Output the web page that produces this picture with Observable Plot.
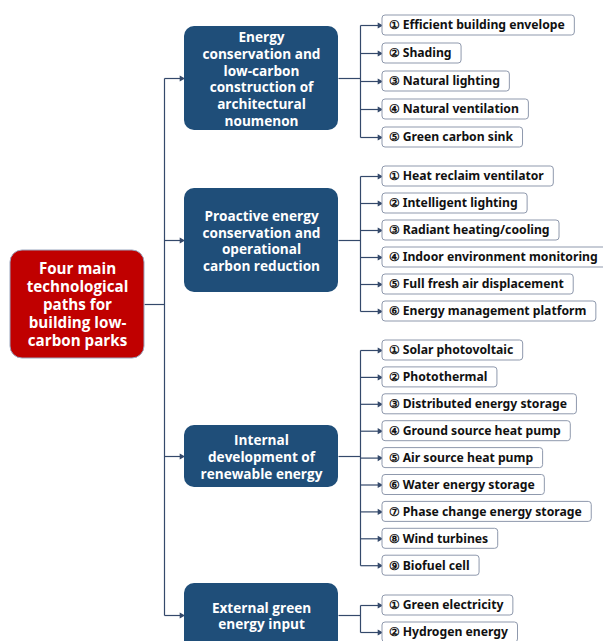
<!DOCTYPE html>
<html><head><meta charset="utf-8">
<script src="https://cdn.jsdelivr.net/npm/d3@7"></script>
<script src="https://cdn.jsdelivr.net/npm/@observablehq/plot@0.6"></script>
<style>body{margin:0;background:#fff}#chart svg{display:block}</style>
</head><body><div id="chart"></div>
<script>
// ---- data ----
const rootLabel = "Four main\ntechnological\npaths for\nbuilding low-\ncarbon parks";
const categories = [
  "Energy\nconservation and\nlow-carbon\nconstruction of\narchitectural\nnoumenon",
  "Proactive energy\nconservation and\noperational\ncarbon reduction",
  "Internal\ndevelopment of\nrenewable energy",
  "External green\nenergy input"
];
const group1 = ["① Efficient building envelope", "② Shading", "③ Natural lighting", "④ Natural ventilation", "⑤ Green carbon sink"];
const group2 = ["① Heat reclaim ventilator", "② Intelligent lighting", "③ Radiant heating/cooling", "④ Indoor environment monitoring", "⑤ Full fresh air displacement", "⑥ Energy management platform"];
const group3 = ["① Solar photovoltaic", "② Photothermal", "③ Distributed energy storage", "④ Ground source heat pump", "⑤ Air source heat pump", "⑥ Water energy storage", "⑦ Phase change energy storage", "⑧ Wind turbines", "⑨ Biofuel cell"];
const group4 = ["① Green electricity", "② Hydrogen energy"];
const groups = [group1, group2, group3, group4];

// ---- layout (pixel space) ----
const W = 603, H = 641;
const lineColor = "#34496b";
const catBoxes = [[26, 130], [188, 292], [425, 487], [583, 650]];
const catX0 = 184, catX1 = 338;
const rootBox = {x0: 10, x1: 144, y0: 250, y1: 358};
const trunkX = 164, branchX = 360, leafX0 = 382;
const groupLayout = [{start: 25, step: 28}, {start: 176, step: 27}, {start: 350, step: 26.9}, {start: 605, step: 27}];
const leafSize = 12.2;
const leafFont = `bold ${leafSize}px 'Noto Sans'`;

const ctx = document.createElement("canvas").getContext("2d");
ctx.font = leafFont;

const cats = categories.map((label, i) => ({
  label, i, x0: catX0, x1: catX1, y0: catBoxes[i][0], y1: catBoxes[i][1],
  cy: i === 3 ? 615 : (catBoxes[i][0] + catBoxes[i][1]) / 2
}));
const leaves = groups.flatMap((g, gi) => g.map((label, i) => {
  const cy = groupLayout[gi].start + i * groupLayout[gi].step;
  const w = ctx.measureText(label).width;
  return {label, gi, cy, x0: leafX0, x1: leafX0 + w + 16, y0: cy - 10, y1: cy + 10};
}));

const segs = [];
const rootY = 304;
segs.push({x1: rootBox.x1, y1: rootY, x2: trunkX, y2: rootY});
segs.push({x1: trunkX, y1: cats[0].cy, x2: trunkX, y2: cats[3].cy});
cats.forEach(c => segs.push({x1: trunkX, y1: c.cy, x2: catX0 - 2, y2: c.cy}));
groups.forEach((g, gi) => {
  const ls = leaves.filter(l => l.gi === gi);
  const c = cats[gi];
  segs.push({x1: catX1, y1: c.cy, x2: branchX, y2: c.cy});
  segs.push({x1: branchX, y1: ls[0].cy, x2: branchX, y2: ls[ls.length - 1].cy});
  ls.forEach(l => segs.push({x1: branchX, y1: l.cy, x2: leafX0 - 2, y2: l.cy}));
});
const heads = [
  ...cats.map(c => ({x: catX0 - 3, y: c.cy})),
  ...leaves.map(l => ({x: leafX0 - 3, y: l.cy}))
];

const chart = Plot.plot({
  width: W, height: H, margin: 0,
  x: {domain: [0, W], range: [0, W], axis: null},
  y: {domain: [0, H], range: [0, H], axis: null},
  marks: [
    Plot.link(segs, {x1: "x1", y1: "y1", x2: "x2", y2: "y2", stroke: lineColor, strokeWidth: 1.2}),
    Plot.dot(heads, {x: "x", y: "y", symbol: "triangle", rotate: 90, r: 2.3, fill: lineColor, stroke: "none"}),
    Plot.rect([rootBox], {x1: "x0", x2: "x1", y1: "y0", y2: "y1", fill: "#c00000", stroke: "#9aa6bf", strokeWidth: 1, rx: 12}),
    Plot.text([{t: rootLabel}], {x: (rootBox.x0 + rootBox.x1) / 2, y: (rootBox.y0 + rootBox.y1) / 2, text: "t", fill: "white", fontSize: 15.2, fontWeight: "bold", fontFamily: "Open Sans", lineHeight: 1.19}),
    Plot.rect(cats, {x1: "x0", x2: "x1", y1: "y0", y2: "y1", fill: "#1f4e79", rx: 10}),
    Plot.text(cats, {x: d => (d.x0 + d.x1) / 2, y: "cy", text: "label", fill: "white", fontSize: 13.6, fontWeight: "bold", fontFamily: "Open Sans", lineHeight: 1.23}),
    Plot.rect(leaves, {x1: "x0", x2: "x1", y1: "y0", y2: "y1", fill: "white", stroke: "#8f99ad", strokeWidth: 1, rx: 3}),
    Plot.text(leaves, {x: d => d.x0 + 6, y: "cy", text: "label", textAnchor: "start", fill: "#111", fontSize: leafSize, fontWeight: "bold", fontFamily: "Noto Sans"})
  ]
});
document.getElementById("chart").append(chart);
</script></body></html>
